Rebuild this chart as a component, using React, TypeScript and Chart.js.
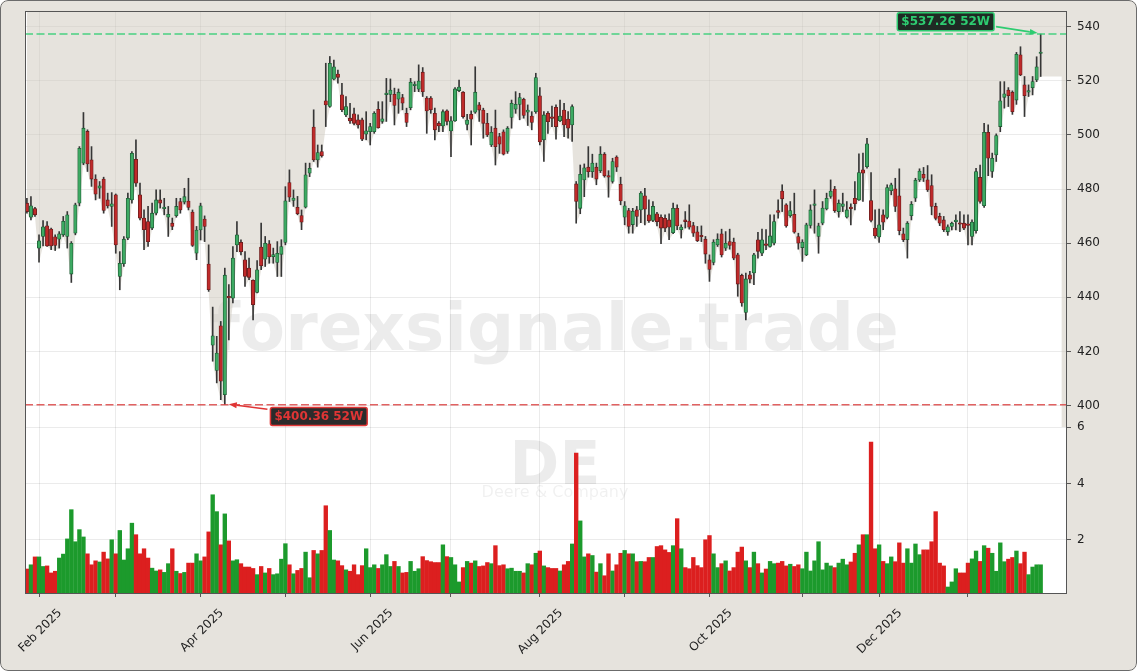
import React, { useEffect, useRef } from 'react';
import { Chart, registerables } from 'chart.js';
Chart.register(...registerables);

// ---- Data (DE daily, ~1 year of trading days) ----
const opens = [
  474.8,469.6,472.8,458.2,462.5,466.4,465.2,462.4,461.5,463.1,
  462.5,448.6,463.7,474.8,489.6,501.3,490.8,483.7,480.3,483.7,
  476.0,473.6,477.9,447.7,452.4,461.9,476.0,491.0,477.9,469.3,
  468.0,465.6,471.1,476.0,472.8,469.6,467.4,470.2,475.4,475.2,
  475.6,471.5,456.3,464.9,468.9,452.3,422.3,413.0,429.5,404.0,
  440.2,439.7,459.4,460.3,453.9,450.8,446.3,441.8,458.6,454.1,
  459.8,455.0,452.9,455.9,460.3,482.4,475.8,473.3,470.2,473.3,
  485.9,502.9,490.8,493.9,512.6,510.5,520.6,522.5,514.8,507.4,
  506.2,507.8,505.6,505.6,500.3,501.2,501.2,509.5,505.0,514.9,
  515.0,515.0,513.2,513.8,508.0,510.1,518.2,516.9,523.2,513.6,
  513.6,508.0,504.3,503.3,508.9,501.5,505.2,516.4,515.8,503.9,
  507.6,508.4,511.1,509.2,504.3,496.3,502.5,499.4,501.2,493.9,
  506.5,509.5,511.3,513.2,508.4,507.0,508.6,514.5,498.2,508.0,
  506.5,510.2,505.3,509.2,505.9,503.7,481.9,472.9,483.4,488.1,
  486.4,488.1,486.8,492.9,484.9,482.8,491.8,481.8,469.6,472.1,
  466.9,472.3,472.3,477.5,470.5,468.4,470.9,469.6,469.2,468.6,
  463.9,472.9,465.0,468.6,468.2,466.5,464.2,462.7,461.5,453.9,
  452.9,459.4,463.5,458.2,460.6,460.4,455.7,448.1,434.4,448.3,
  449.0,461.3,456.3,459.8,458.8,460.0,472.1,479.3,474.2,470.2,
  470.7,462.5,458.4,455.7,466.6,474.0,462.5,467.4,472.7,477.3,
  480.0,471.7,473.6,469.6,473.3,476.6,476.0,487.1,488.3,475.8,
  465.6,462.3,470.5,469.5,479.4,480.1,477.5,463.5,461.3,470.2,
  476.6,483.4,485.5,483.4,481.3,473.6,469.9,468.6,464.3,466.2,
  468.0,467.4,467.4,467.0,462.5,464.6,484.3,473.9,501.0,486.5,
  492.6,503.1,513.9,516.6,515.8,512.9,529.6,518.5,515.8,517.5,
  520.3,530.1,
];
const highs = [
  476.6,477.2,473.3,463.1,468.4,468.0,465.6,463.1,464.3,469.9,
  471.7,460.6,474.8,495.7,508.3,501.9,495.7,485.3,482.8,484.4,
  478.5,478.7,478.2,456.9,462.5,478.5,493.9,498.2,482.2,472.3,
  473.6,474.8,479.7,479.7,476.6,473.6,469.3,476.6,476.6,480.3,
  484.0,472.3,466.2,474.8,470.1,459.4,436.4,425.6,431.1,450.8,
  444.7,458.8,468.0,461.3,456.9,454.5,446.5,453.6,467.4,462.5,
  461.0,458.2,460.6,461.3,480.9,487.1,479.7,477.3,472.3,489.6,
  489.6,509.3,496.3,496.3,526.5,529.0,527.7,524.0,519.1,514.2,
  511.7,509.9,507.4,506.2,508.6,504.3,508.6,512.3,512.3,520.9,
  520.7,517.3,517.0,515.0,509.9,520.9,519.7,525.9,524.9,514.2,
  514.2,509.9,504.9,509.3,509.3,506.8,517.5,520.3,516.0,507.6,
  508.9,525.2,512.0,509.9,508.0,503.1,509.2,500.6,501.9,503.1,
  512.9,516.0,515.4,513.6,511.1,508.6,522.8,517.5,508.6,508.6,
  510.7,511.1,512.9,511.7,508.6,511.1,482.8,488.9,489.3,495.7,
  492.9,489.6,495.7,493.5,486.8,491.4,492.3,484.4,475.4,472.9,
  472.9,473.6,479.1,480.3,476.0,475.4,471.4,470.5,470.5,470.9,
  474.8,474.2,466.8,471.7,474.2,467.7,466.2,466.4,462.5,455.7,
  461.3,463.5,465.2,464.3,465.2,461.9,456.3,448.6,449.0,449.6,
  456.3,464.0,465.2,465.0,470.5,470.5,476.0,481.6,474.6,475.4,
  478.5,463.7,461.3,467.4,474.2,479.7,467.4,475.4,478.5,483.4,
  481.0,476.0,478.5,475.4,474.6,482.8,493.0,493.3,498.8,486.1,
  472.3,472.6,472.3,481.6,482.2,484.0,487.5,465.6,468.0,475.4,
  484.0,487.5,488.0,488.7,485.3,474.8,471.1,469.9,466.8,467.8,
  470.5,471.7,470.5,470.5,468.6,487.7,488.9,504.3,503.7,493.3,
  500.4,519.7,519.7,517.5,516.3,530.5,532.6,521.6,518.5,521.6,
  528.9,537.26,
];
const lows = [
  471.1,468.6,469.9,453.0,459.0,458.8,457.6,457.3,458.2,462.5,
  458.2,445.5,463.1,473.8,489.0,486.5,481.0,476.0,476.6,471.1,
  473.0,466.2,456.3,442.8,451.4,461.3,474.8,481.0,468.6,457.6,
  458.8,465.0,470.5,473.0,470.5,462.5,465.0,469.6,471.1,474.5,
  472.3,458.8,453.9,461.2,460.6,442.2,416.4,408.4,402.2,400.36,
  424.3,437.9,456.9,455.7,444.0,446.5,431.7,441.6,450.2,451.4,
  452.6,452.6,447.7,447.7,459.4,475.4,473.6,470.5,465.0,473.0,
  484.6,490.2,488.1,491.8,503.1,510.2,520.3,519.1,508.6,506.8,
  504.3,503.7,502.5,497.9,498.2,496.3,500.6,502.5,504.3,505.0,
  512.3,503.7,508.0,509.3,503.1,509.3,516.0,516.0,514.2,500.6,
  508.0,498.2,501.2,501.2,503.7,492.0,505.0,516.0,506.2,501.9,
  496.3,508.0,505.0,498.8,499.4,495.7,488.9,493.2,492.6,493.2,
  502.5,508.0,505.6,506.2,503.5,501.9,508.0,496.3,490.2,500.6,
  503.1,498.4,504.9,499.4,498.8,497.6,467.4,470.9,477.2,484.4,
  484.3,481.6,486.1,484.4,477.0,482.2,486.5,474.2,466.8,463.7,
  463.7,466.2,467.6,466.8,467.7,468.0,466.4,459.8,464.3,461.3,
  463.5,465.0,461.9,465.6,465.2,462.5,460.6,460.6,452.6,445.9,
  452.0,458.8,454.9,457.3,457.8,453.9,440.4,436.7,431.7,445.3,
  444.7,454.5,455.4,457.6,458.5,459.4,469.3,471.7,465.9,469.6,
  463.7,457.8,453.3,455.4,465.6,463.7,456.3,466.8,472.3,476.6,
  471.4,469.6,471.7,469.3,466.8,472.3,475.8,475.4,487.7,467.9,
  461.9,460.3,465.0,469.0,477.9,471.7,463.1,460.6,454.5,468.6,
  475.4,482.8,482.8,479.1,470.5,468.6,466.5,464.3,462.9,464.9,
  464.9,464.3,465.0,459.4,459.4,463.7,474.8,473.2,485.0,484.3,
  490.2,501.2,509.9,510.5,507.6,511.3,521.9,506.8,514.2,514.8,
  519.7,521.6,
];
const closes = [
  471.7,473.8,470.5,460.9,466.1,459.0,459.0,459.2,463.5,468.1,
  470.5,460.0,474.2,495.1,502.5,489.3,483.7,478.1,481.2,472.1,
  473.8,474.6,459.4,452.6,461.5,476.6,493.2,482.2,469.3,465.0,
  460.6,471.1,476.0,474.8,473.2,470.7,466.2,473.6,472.3,477.2,
  473.2,459.2,464.9,473.8,466.2,442.8,425.8,419.4,409.0,448.2,
  439.8,454.5,463.1,456.9,447.7,447.4,437.3,450.2,451.7,460.0,
  454.9,455.8,456.3,458.8,475.7,477.0,476.7,470.9,467.8,485.3,
  487.7,490.8,493.5,492.3,511.1,526.5,525.2,521.3,509.3,510.5,
  505.2,504.3,503.7,498.4,501.5,503.1,508.0,502.7,506.0,515.0,
  516.6,510.9,515.8,511.7,504.6,519.5,518.5,519.9,516.0,508.9,
  509.3,501.9,503.3,508.6,505.0,505.2,517.0,517.7,506.8,505.5,
  505.8,515.8,509.2,504.3,500.0,501.0,495.7,496.6,492.9,502.5,
  511.7,511.3,513.8,507.2,509.2,504.6,521.2,497.4,507.4,504.9,
  506.1,503.1,507.0,503.7,502.5,510.5,475.4,485.5,487.9,486.4,
  489.6,483.7,492.9,484.9,484.4,490.2,488.1,475.6,473.8,466.2,
  471.8,469.9,478.5,472.6,468.3,473.6,468.0,465.6,465.6,465.9,
  472.9,466.4,466.0,468.0,465.9,463.7,460.9,462.4,456.0,450.3,
  460.4,461.5,455.7,460.0,459.2,454.5,444.9,437.9,446.8,446.7,
  455.7,457.0,461.3,459.2,462.7,468.0,471.4,476.4,466.4,472.1,
  464.1,460.0,460.4,466.8,472.3,474.4,466.4,473.0,476.6,479.3,
  472.0,474.8,474.6,472.3,472.8,474.6,486.1,485.9,496.7,468.4,
  462.7,466.8,467.8,480.6,481.6,473.6,464.6,461.3,467.4,474.4,
  483.3,486.7,484.0,479.7,473.6,469.2,467.4,465.0,466.1,467.4,
  468.5,467.0,465.6,466.6,467.8,486.5,475.4,501.0,491.4,491.4,
  499.8,512.6,515.2,514.5,508.6,529.8,522.2,514.5,516.3,519.7,
  525.2,530.3,
];
// volume in millions of shares
const volumes = [
  0.96,1.11,1.39,1.39,1.05,1.07,0.82,0.88,1.35,1.49,
  2.03,3.07,1.93,2.36,2.10,1.50,1.11,1.25,1.21,1.56,
  1.32,2.00,1.50,2.33,1.28,1.68,2.59,2.18,1.50,1.68,
  1.35,0.99,0.89,0.93,0.84,1.15,1.68,0.88,0.80,0.84,
  1.17,1.17,1.50,1.25,1.39,2.28,3.60,3.00,1.82,2.92,
  1.96,1.25,1.29,1.15,1.03,1.03,0.98,0.76,1.05,0.82,
  0.98,0.76,0.79,1.31,1.86,1.11,0.79,0.91,0.98,1.56,
  0.65,1.62,1.50,1.62,3.21,2.33,1.28,1.25,1.08,0.93,
  0.88,1.11,0.76,1.08,1.68,1.01,1.11,0.98,1.11,1.47,
  1.05,1.23,1.05,0.82,0.84,1.23,0.88,0.97,1.40,1.26,
  1.22,1.19,1.19,1.82,1.40,1.37,1.11,0.50,1.01,1.23,
  1.17,1.25,1.05,1.07,1.19,1.15,1.79,1.08,1.11,0.97,
  0.99,0.88,0.88,0.82,1.15,1.11,1.52,1.60,1.07,1.01,
  0.98,0.98,0.89,1.11,1.23,1.85,5.08,2.67,1.39,1.50,
  1.44,0.85,1.15,0.72,1.50,0.89,1.11,1.52,1.62,1.50,
  1.50,1.22,1.23,1.22,1.37,1.37,1.76,1.79,1.64,1.55,
  1.79,2.75,1.68,1.01,0.97,1.37,1.08,1.01,2.00,2.15,
  1.50,1.01,1.15,1.25,0.89,1.01,1.56,1.74,1.25,1.01,
  1.56,1.15,0.82,0.96,1.23,1.15,1.17,1.23,1.07,1.13,
  1.05,1.11,0.97,1.56,0.89,1.25,1.93,0.93,1.17,1.07,
  1.01,1.17,1.31,1.11,1.21,1.52,1.82,2.18,2.18,5.47,
  1.68,1.82,1.23,1.15,1.39,1.22,1.89,1.17,1.68,1.17,
  1.85,1.47,1.64,1.64,1.93,3.00,1.17,1.07,0.32,0.50,
  0.97,0.82,0.82,1.17,1.32,1.60,1.23,1.79,1.70,1.52,
  0.88,1.89,1.22,1.31,1.37,1.60,1.15,1.56,0.76,1.03,
  1.11,1.11,
];
// first trading day of each month (bar index) and their labels
const monthTickIndex = [3, 22, 43, 64, 85, 105, 127, 148, 169, 192, 211, 233];
const monthTickLabels = ['Feb 2025', '', 'Apr 2025', '', 'Jun 2025', '', 'Aug 2025', '', 'Oct 2025', '', 'Dec 2025', ''];
const priceTicks = [400, 420, 440, 460, 480, 500, 520, 540];
const volumeTicks = [2, 4, 6];
const high52 = 537.26;
const low52 = 400.36;
const high52Label = '$537.26 52W';
const low52Label = '$400.36 52W';
const watermarkText = 'forexsignale.trade';
const symbolText = 'DE';
const companyText = 'Deere & Company';

const FONT = "'DejaVu Sans', 'Liberation Sans', sans-serif";
const BEIGE = '#e6e3dd';

export default function App() {
  const ref = useRef<HTMLCanvasElement | null>(null);

  useEffect(() => {
    document.body.style.margin = '0';
    const canvas = ref.current;
    if (!canvas) return;
    const n = closes.length;
    const idx = closes.map((_, i) => i);
    const up = idx.map((i) => closes[i] >= opens[i]);

    const xMin = -0.47;
    const xMax = 257.27;
    const yMin = 392.1;
    const yMax = 545.8;

    const fillPts: any[] = idx.map((i) => ({ x: i, y: lows[i] }));
    const tailX = n - 1 + 5.2;
    fillPts.push({ x: tailX, y: lows[n - 1] }, { x: tailX, y: yMin }, { x: xMax + 2, y: yMin });

    const iHigh = highs.indexOf(Math.max(...highs));
    const iLow = lows.indexOf(Math.min(...lows));

    const bgPlugin = {
      id: 'bg',
      beforeDraw(chart: any) {
        const { ctx, chartArea: a } = chart;
        ctx.save();
        ctx.fillStyle = '#ffffff';
        ctx.fillRect(a.left, a.top, a.right - a.left, a.bottom - a.top);
        ctx.restore();
      },
    };

    const watermarkPlugin = {
      id: 'wm',
      beforeDatasetsDraw(chart: any) {
        const { ctx } = chart;
        ctx.save();
        ctx.textAlign = 'center';
        ctx.textBaseline = 'alphabetic';
        ctx.fillStyle = 'rgba(0,0,0,0.075)';
        ctx.font = `bold 66px ${FONT}`;
        ctx.fillText(watermarkText, 555, 350);
        ctx.font = `bold 60px ${FONT}`;
        ctx.fillText(symbolText, 555, 484);
        ctx.fillStyle = 'rgba(0,0,0,0.06)';
        ctx.font = `16px ${FONT}`;
        ctx.fillText(companyText, 555, 497);
        ctx.restore();
      },
    };

    const drawArrow = (ctx: any, sx: number, sy: number, tx: number, ty: number, color: string) => {
      ctx.strokeStyle = color;
      ctx.fillStyle = color;
      ctx.lineWidth = 1.6;
      const ang = Math.atan2(ty - sy, tx - sx);
      const hl = 8;
      const bx = tx - hl * Math.cos(ang);
      const by = ty - hl * Math.sin(ang);
      ctx.beginPath();
      ctx.moveTo(sx, sy);
      ctx.lineTo(bx, by);
      ctx.stroke();
      ctx.beginPath();
      ctx.moveTo(tx, ty);
      ctx.lineTo(bx + 3 * Math.sin(ang), by - 3 * Math.cos(ang));
      ctx.lineTo(bx - 3 * Math.sin(ang), by + 3 * Math.cos(ang));
      ctx.closePath();
      ctx.fill();
    };

    const drawBox = (ctx: any, text: string, cx: number, cy: number, fg: string, bg: string) => {
      ctx.font = `bold 12px ${FONT}`;
      const tw = ctx.measureText(text).width;
      const w = tw + 8;
      const h = 18;
      const x0 = cx - w / 2;
      const y0 = cy - h / 2;
      ctx.fillStyle = bg;
      ctx.strokeStyle = fg;
      ctx.lineWidth = 1.5;
      ctx.beginPath();
      if (ctx.roundRect) ctx.roundRect(x0, y0, w, h, 2);
      else ctx.rect(x0, y0, w, h);
      ctx.fill();
      ctx.stroke();
      ctx.fillStyle = fg;
      ctx.textAlign = 'center';
      ctx.textBaseline = 'middle';
      ctx.fillText(text, cx, cy + 0.5);
      return { x0, y0, w, h };
    };

    const annotPlugin = {
      id: 'annot',
      afterDatasetsDraw(chart: any) {
        const { ctx, chartArea: a, scales } = chart;
        const xs = scales.x;
        const ys = scales.y;
        ctx.save();
        ctx.beginPath();
        ctx.rect(a.left, a.top, a.right - a.left, a.bottom - a.top);
        ctx.clip();
        const yh = ys.getPixelForValue(high52);
        const yl = ys.getPixelForValue(low52);
        ctx.setLineDash([8, 3.5]);
        ctx.lineWidth = 1.5;
        ctx.strokeStyle = 'rgba(46,204,113,0.85)';
        ctx.beginPath();
        ctx.moveTo(a.left, yh);
        ctx.lineTo(a.right, yh);
        ctx.stroke();
        ctx.strokeStyle = 'rgba(220,70,70,0.85)';
        ctx.beginPath();
        ctx.moveTo(a.left, yl);
        ctx.lineTo(a.right, yl);
        ctx.stroke();
        ctx.setLineDash([]);

        // 52W high label
        const hx = xs.getPixelForValue(iHigh);
        const hb = drawBox(ctx, high52Label, hx - 95, yh - 12.3, '#2ecc71', '#1f2a24');
        drawArrow(ctx, hb.x0 + hb.w + 2, yh - 7.5, hx - 3, yh - 1, '#2ecc71');
        // 52W low label
        const lx = xs.getPixelForValue(iLow);
        const lb = drawBox(ctx, low52Label, lx + 94, yl + 11.8, '#e03535', '#2b2b2b');
        drawArrow(ctx, lb.x0 - 3, yl + 4.6, lx + 4, yl - 0.5, '#e03535');
        ctx.restore();
      },
    };

    const framePlugin = {
      id: 'frame',
      afterDraw(chart: any) {
        const { ctx, chartArea: a } = chart;
        ctx.save();
        ctx.strokeStyle = '#555555';
        ctx.lineWidth = 1;
        ctx.strokeRect(Math.round(a.left) + 0.5, Math.round(a.top) + 0.5, Math.round(a.right - a.left), Math.round(a.bottom - a.top));
        ctx.restore();
      },
    };

    const tickFont = { family: FONT, size: 12 };
    const gridColor = 'rgba(0,0,0,0.10)';

    const chart = new Chart(canvas, {
      data: {
        datasets: [
          {
            type: 'line',
            label: 'area',
            data: fillPts,
            yAxisID: 'y',
            xAxisID: 'x',
            fill: 'end',
            backgroundColor: 'rgba(205,199,187,0.5)',
            borderWidth: 0,
            pointRadius: 0,
            tension: 0,
            order: 10,
          },
          {
            type: 'bar',
            label: 'volume',
            data: idx.map((i) => ({ x: i, y: volumes[i] })),
            yAxisID: 'y2',
            xAxisID: 'x',
            backgroundColor: idx.map((i) => (up[i] ? '#1c9a2c' : '#dc1f1f')),
            barThickness: 3.7,
            grouped: false,
            order: 5,
          },
          {
            type: 'bar',
            label: 'wick',
            data: idx.map((i) => ({ x: i, y: [lows[i], highs[i]] })),
            yAxisID: 'y',
            xAxisID: 'x',
            backgroundColor: '#363636',
            barThickness: 1,
            grouped: false,
            order: 2,
          },
          {
            type: 'bar',
            label: 'body',
            data: idx.map((i) => ({ x: i, y: [opens[i], closes[i]] })),
            yAxisID: 'y',
            xAxisID: 'x',
            backgroundColor: idx.map((i) => (up[i] ? '#3daa63' : '#bf2a2a')),
            borderColor: idx.map((i) => (up[i] ? '#1e5c34' : '#6a1c1c')),
            borderWidth: 0.8,
            borderSkipped: false,
            barThickness: 3.4,
            minBarLength: 1.5,
            grouped: false,
            order: 1,
          },
        ] as any,
      },
      options: {
        animation: false,
        responsive: false,
        events: [],
        layout: { padding: { left: 25, top: 11, right: 0, bottom: 0 } },
        plugins: { legend: { display: false }, tooltip: { enabled: false } },
        scales: {
          x: {
            type: 'linear',
            position: 'bottom',
            offset: false,
            min: xMin,
            max: xMax,
            afterBuildTicks: (s: any) => {
              s.ticks = monthTickIndex.map((v) => ({ value: v }));
            },
            afterFit: (s: any) => {
              s.height = 78;
              s.paddingLeft = 0;
              s.paddingRight = 0;
            },
            grid: { color: gridColor, tickColor: '#333', tickLength: 4, lineWidth: 0.8, offset: false },
            border: { color: '#555', width: 1 },
            ticks: {
              autoSkip: false,
              minRotation: 45,
              maxRotation: 45,
              padding: 9,
              font: tickFont,
              color: '#222',
              labelOffset: 21,
              callback: (_v: any, i: number) => monthTickLabels[i] ?? '',
            },
          },
          y: {
            type: 'linear',
            position: 'right',
            stack: 'panels',
            stackWeight: 416,
            min: yMin,
            max: yMax,
            afterBuildTicks: (s: any) => {
              s.ticks = priceTicks.map((v) => ({ value: v }));
            },
            afterFit: (s: any) => {
              s.width = 71;
              s.paddingTop = 0;
              s.paddingBottom = 0;
            },
            grid: { color: gridColor, tickColor: '#333', tickLength: 5, lineWidth: 0.8 },
            border: { color: '#555', width: 1 },
            ticks: { font: tickFont, color: '#222', padding: 6, callback: (v: any) => String(v) },
          },
          y2: {
            type: 'linear',
            position: 'right',
            stack: 'panels',
            stackWeight: 166,
            min: 0.107,
            max: 6.01,
            afterBuildTicks: (s: any) => {
              s.ticks = volumeTicks.map((v) => ({ value: v }));
            },
            afterFit: (s: any) => {
              s.width = 71;
              s.paddingTop = 0;
              s.paddingBottom = 0;
            },
            grid: { color: gridColor, tickColor: '#333', tickLength: 5, lineWidth: 0.8 },
            border: { color: '#555', width: 1 },
            ticks: { font: tickFont, color: '#222', padding: 6, callback: (v: any) => String(v) },
          },
        },
      } as any,
      plugins: [bgPlugin, watermarkPlugin, annotPlugin, framePlugin],
    });
    return () => chart.destroy();
  }, []);

  return (
    <div style={{ position: 'relative', width: 1137, height: 671, background: BEIGE, borderRadius: 8, overflow: 'hidden' }}>
      <canvas ref={ref} width={1137} height={671} style={{ position: 'absolute', left: 0, top: 0, width: 1137, height: 671 }} />
      <div style={{ position: 'absolute', inset: 0, border: '1.5px solid #6b6b6b', borderRadius: 8, pointerEvents: 'none' }} />
    </div>
  );
}
